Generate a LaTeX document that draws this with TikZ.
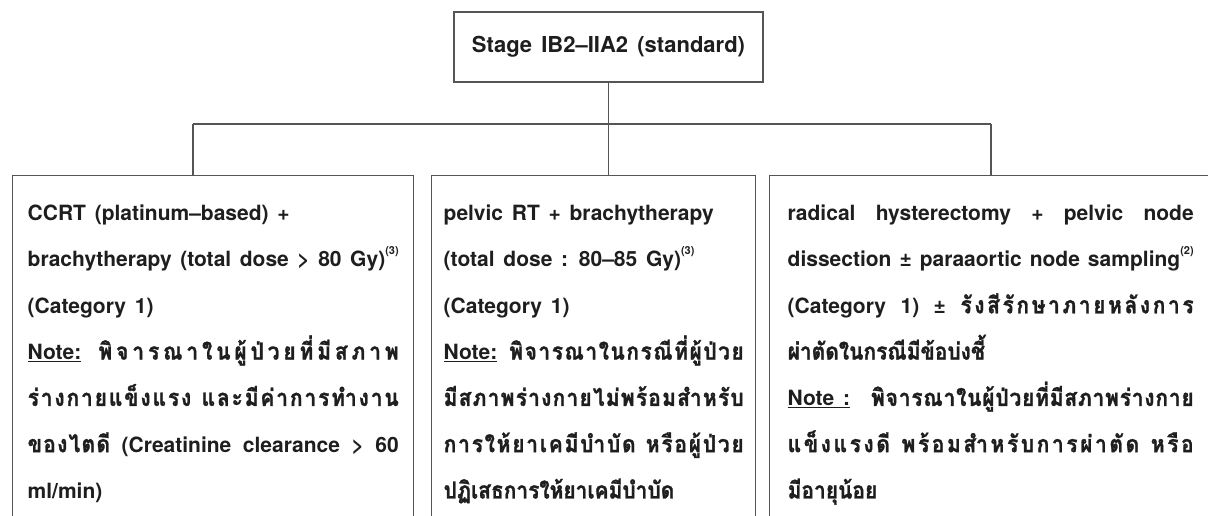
\documentclass[tikz,border=0pt]{standalone}
\usepackage{fontspec}
\setmainfont[WordSpace=1.5]{TeX Gyre Heros}
\newfontfamily\thaifont[Script=Thai, Scale=1.12, FakeStretch=0.89, FakeBold=1.2]{Loma}
% stretchable glue between Thai character clusters (for justified lines)
\XeTeXinterchartokenstate=1
\newXeTeXintercharclass\thbase
\newXeTeXintercharclass\thmark
\newcount\thc
\thc="0E01
\loop \XeTeXcharclass\thc=\thbase \advance\thc by 1 \ifnum\thc<"0E5C \repeat
\XeTeXcharclass"0E31=\thmark
\XeTeXcharclass"0E33=\thmark
\thc="0E34
\loop \XeTeXcharclass\thc=\thmark \advance\thc by 1 \ifnum\thc<"0E3B \repeat
\thc="0E47
\loop \XeTeXcharclass\thc=\thmark \advance\thc by 1 \ifnum\thc<"0E4F \repeat
\def\thglue{\hskip0pt plus 2pt\relax}
\XeTeXinterchartoks\thbase\thbase={\thglue}
\XeTeXinterchartoks\thmark\thbase={\thglue}
\newcommand{\tha}[1]{{\thaifont #1}}
\newcommand{\jl}[1]{\makebox[\linewidth][s]{#1}}
\newcommand{\supr}[1]{\raisebox{0.6em}{\fontsize{11}{11}\selectfont #1}}
\newcommand{\firstline}{\rule{0pt}{20pt}}
\definecolor{linec}{HTML}{555555}
\definecolor{txtc}{HTML}{1E1E1E}
\tikzset{
  conn/.style={draw=linec, line width=1.4pt},
  topbox/.style={draw=linec, line width=1.4pt, minimum width=309pt, minimum height=70pt, inner sep=0pt,
    font=\fontsize{22}{25}\selectfont\bfseries, text=txtc},
  branchbox/.style={draw=linec, line width=1.4pt, anchor=north west, inner ysep=25pt,
    font=\fontsize{21}{46.3}\selectfont\bfseries, text=txtc},
}
\begin{document}
\begin{tikzpicture}[x=1pt, y=-1pt]
\clip (0,0) rectangle (1208,516);
\node[topbox] (top) at (608.5,47) {Stage IB2–IIA2 (standard)};
\node[branchbox, inner xsep=15pt] (left) at (12,175) {\parbox[t][360pt][t]{371pt}{\fontsize{21}{46.3}\selectfont
\firstline CCRT (platinum–based) +\\
\jl{brachytherapy (total dose > 80 Gy)\supr{(3)}}\\
(Category 1)\\
\jl{\underline{Note:} \tha{พิจารณาในผู้ป่วยที่มีสภาพ}}\\
\jl{\tha{ร่างกายแข็งแรง และมีค่าการทำงาน}}\\
\jl{\tha{ของไตดี} (Creatinine clearance > 60}\\
ml/min)}};
\node[branchbox, inner xsep=12pt] (mid) at (431,175) {\parbox[t][360pt][t]{300pt}{\fontsize{21}{46.3}\selectfont
\firstline pelvic RT + brachytherapy\\
(total dose : 80–85 Gy)\supr{(3)}\\
(Category 1)\\
\jl{\underline{Note:} \tha{พิจารณาในกรณีที่ผู้ป่วย}}\\
\jl{\tha{มีสภาพร่างกายไม่พร้อมสำหรับ}}\\
\jl{\tha{การให้ยาเคมีบำบัด หรือผู้ป่วย}}\\
\tha{ปฏิเสธการให้ยาเคมีบำบัด}}};
\node[branchbox, inner xsep=18pt] (right) at (769,175) {\parbox[t][360pt][t]{406pt}{\fontsize{21}{46.3}\selectfont
\firstline\jl{radical hysterectomy + pelvic node}\\
\jl{dissection ± paraaortic node sampling\supr{(2)}}\\
\jl{(Category 1) ± \tha{รังสีรักษาภายหลังการ}}\\
\tha{ผ่าตัดในกรณีมีข้อบ่งชี้}\\
\jl{\underline{Note :}\ \ \tha{พิจารณาในผู้ป่วยที่มีสภาพร่างกาย}}\\
\jl{\tha{แข็งแรงดี พร้อมสำหรับการผ่าตัด หรือ}}\\
\tha{มีอายุน้อย}}};
\coordinate (hl) at (193,124);
\coordinate (hr) at (991,124);
\draw[conn] (top.south) -- (top.south |- mid.north);
\draw[conn] (hl) -- (hr);
\draw[conn] (hl) -- (hl |- left.north);
\draw[conn] (hr) -- (hr |- right.north);
\end{tikzpicture}
\end{document}
